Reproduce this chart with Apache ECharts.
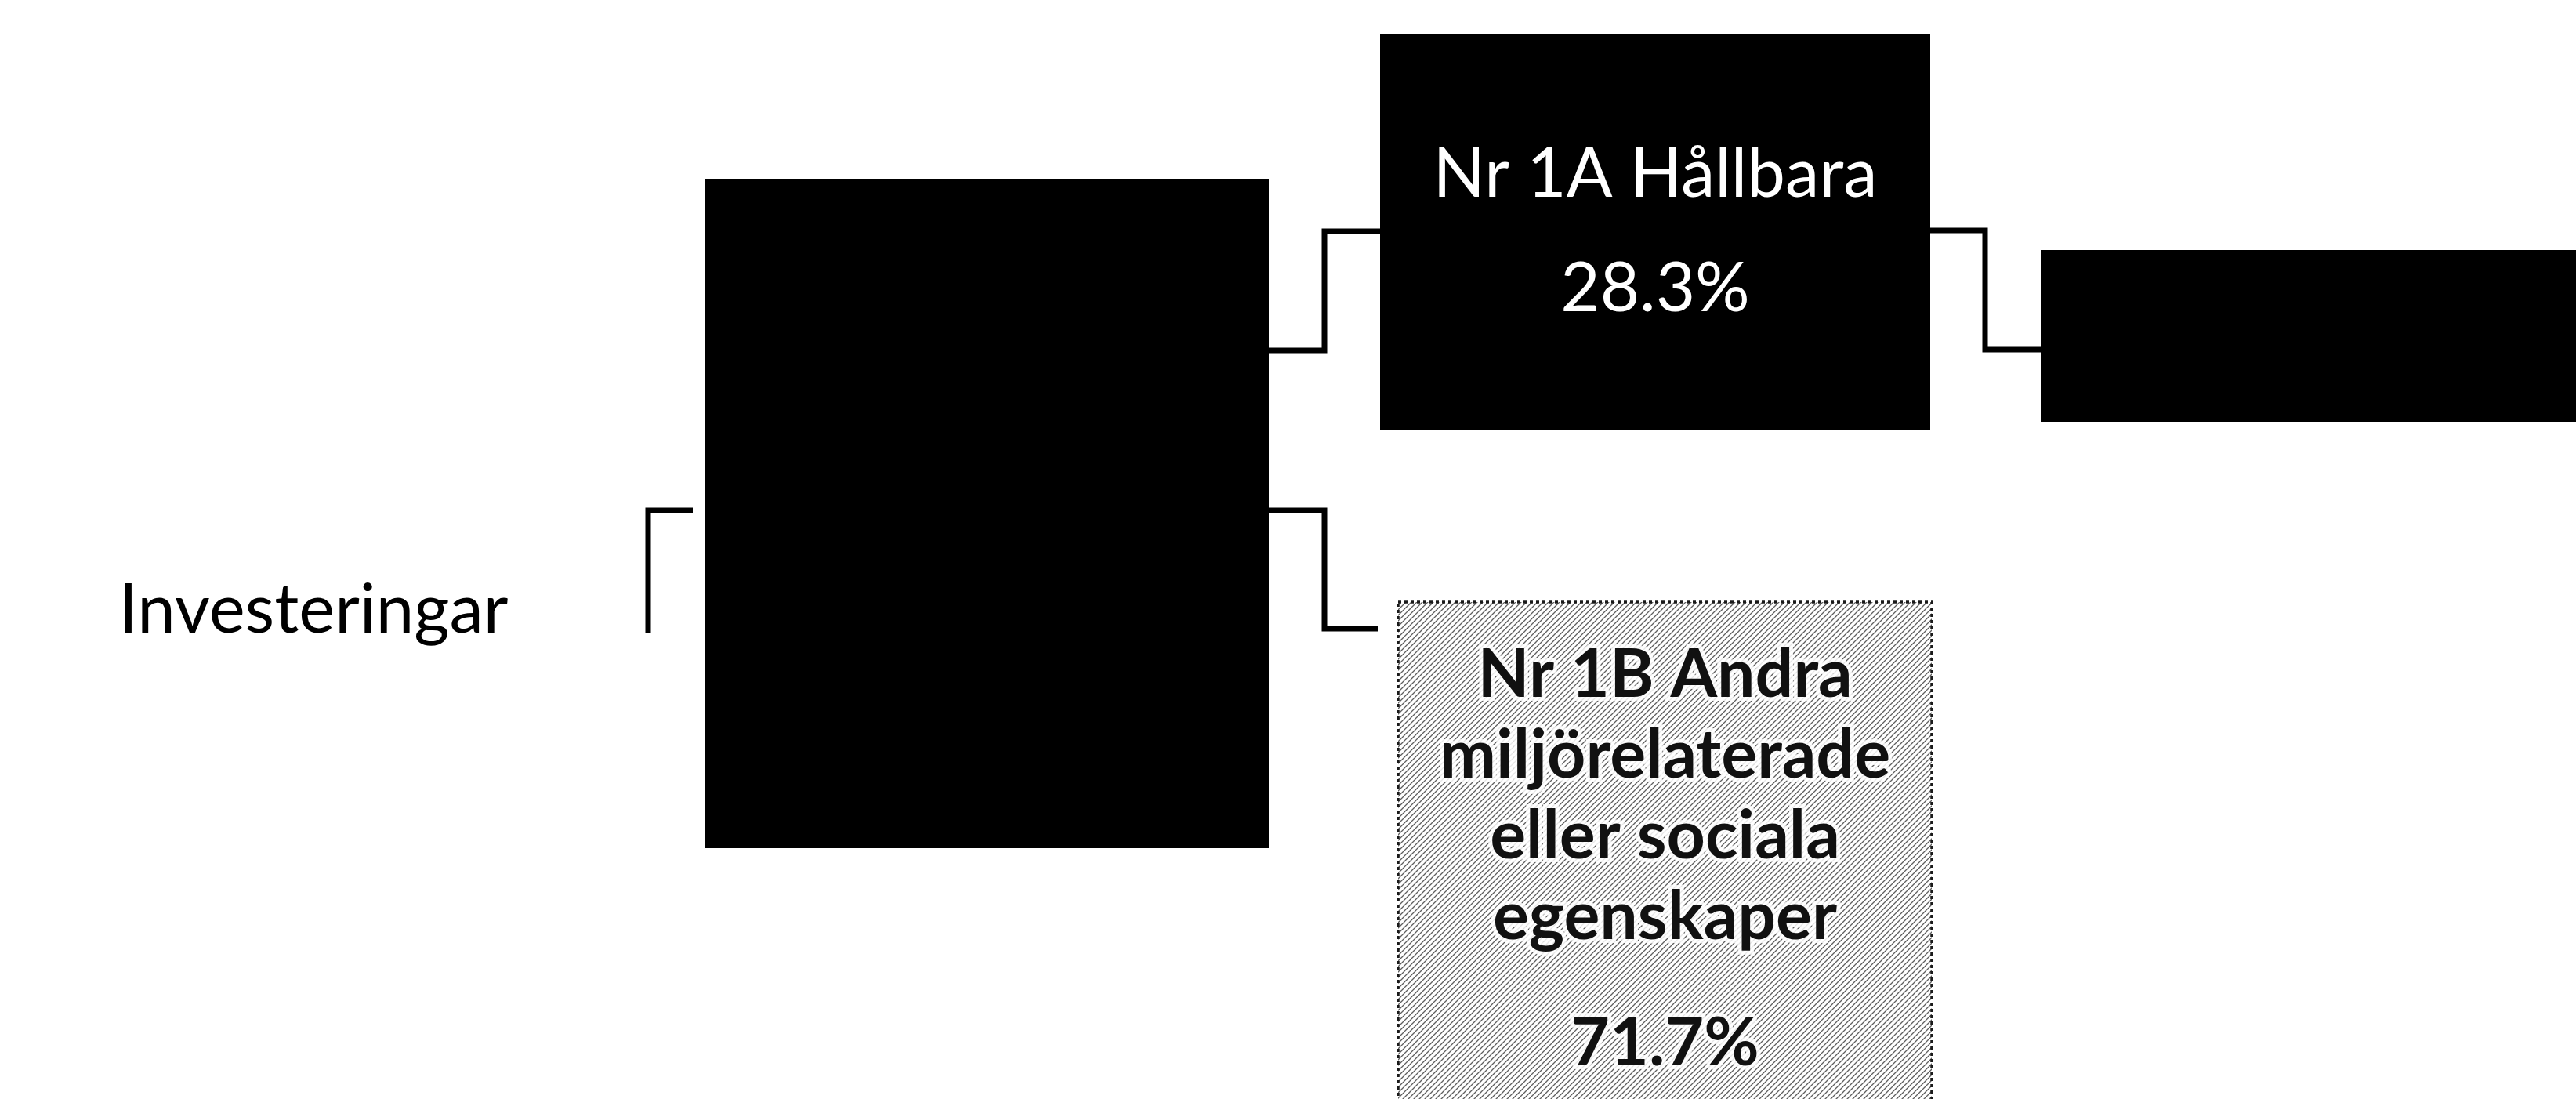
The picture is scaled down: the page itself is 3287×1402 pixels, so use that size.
<!DOCTYPE html>
<html>
<head>
<meta charset="utf-8">
<script src="https://cdn.jsdelivr.net/npm/echarts@6/dist/echarts.min.js"></script>
<style>
html, body { margin: 0; padding: 0; background: #ffffff; }
#chart { width: 3287px; height: 1402px; }
</style>
</head>
<body>
<div id="chart"></div>
<script>
// ---- Data ----
const nodeLabels = ['Investeringar', '', 'Nr 1A Hållbara', 'Nr 1B Andra\nmiljörelaterade\neller sociala\negenskaper', ''];
const nodeShares = [null, null, 28.3, 71.7, null];   // percent
const linkSource = [0, 1, 1, 2];
const linkTarget = [1, 2, 3, 4];

// ---- Layout (diagram units = page pixels) ----
const nodeBoxes = [
  [34, 668, 766, 890],
  [899, 228, 1619, 1082],
  [1761, 43, 2463, 548],
  [1784, 768, 2465, 1482],
  [2604, 319, 3300, 538]
];
// [startX, startY, elbowX, endY, endX]
const linkRoutes = [
  [827, 807, 827, 651, 884],
  [1619, 447, 1690, 295, 1761],
  [1619, 651, 1690, 802, 1758],
  [2463, 294, 2533, 446, 2604]
];

// hatch pattern for 1B box
function makeHatch() {
  const s = 7;
  const c = document.createElement('canvas');
  c.width = s; c.height = s;
  const g = c.getContext('2d');
  g.fillStyle = '#ffffff';
  g.fillRect(0, 0, s, s);
  g.strokeStyle = '#5e5e5e';
  g.lineWidth = 1.3;
  g.beginPath();
  g.moveTo(-1, s + 1); g.lineTo(s + 1, -1);
  g.moveTo(-s / 2 - 1, s / 2 + 1); g.lineTo(s / 2 + 1, -s / 2 - 1);
  g.moveTo(s / 2 - 1, s * 1.5 + 1); g.lineTo(s * 1.5 + 1, s / 2 - 1);
  g.stroke();
  return c;
}
const hatch = makeHatch();

const FONT = 'Lato, "Open Sans", "Noto Sans", sans-serif';
const nodeStyle = [
  { fill: 'rgba(0,0,0,0)', stroke: null, lineWidth: 0, lineDash: null,
    t: { fontSize: 87, fill: '#000', fontWeight: 'normal', lineHeight: 100 }, pLH: 100 },
  { fill: '#000', stroke: null, lineWidth: 0, lineDash: null,
    t: { fontSize: 87, fill: '#fff', fontWeight: 'normal', lineHeight: 100 }, pLH: 100 },
  { fill: '#000', stroke: null, lineWidth: 0, lineDash: null,
    t: { fontSize: 87, fill: '#fff', fontWeight: 'normal', lineHeight: 146 }, pLH: 146 },
  { fill: { image: hatch, repeat: 'repeat' }, stroke: '#1a1a1a', lineWidth: 3.5, lineDash: [4, 4],
    t: { fontSize: 86, fill: '#111', fontWeight: 'bold', lineHeight: 103,
         stroke: 'rgba(255,255,255,0.85)', lineWidth: 10 }, pLH: 219 },
  { fill: '#000', stroke: null, lineWidth: 0, lineDash: null,
    t: { fontSize: 87, fill: '#fff', fontWeight: 'normal', lineHeight: 100 }, pLH: 100 }
];

function labelText(i) {
  const parts = [];
  if (nodeLabels[i]) {
    nodeLabels[i].split('\n').forEach(l => parts.push('{t|' + l + '}'));
  }
  if (nodeShares[i] != null) parts.push('{p|' + nodeShares[i].toFixed(1) + '%}');
  return parts.join('\n');
}

const chart = echarts.init(document.getElementById('chart'), null, { renderer: 'canvas' });

chart.setOption({
  animation: false,
  backgroundColor: '#ffffff',
  grid: { left: 0, right: 0, top: 0, bottom: 0 },
  xAxis: { type: 'value', min: 0, max: 3287, show: false },
  yAxis: { type: 'value', min: 0, max: 1402, inverse: true, show: false },
  series: [
    {
      type: 'custom',
      name: 'links',
      coordinateSystem: 'cartesian2d',
      silent: true,
      data: linkSource.map((s, i) => [i, s, linkTarget[i]]),
      renderItem: function (params, api) {
        const r = linkRoutes[api.value(0)];
        const pts = [
          api.coord([r[0], r[1]]),
          api.coord([r[2], r[1]]),
          api.coord([r[2], r[3]]),
          api.coord([r[4], r[3]])
        ];
        return {
          type: 'polyline',
          shape: { points: pts },
          style: { stroke: '#000', lineWidth: 7, fill: null, lineJoin: 'miter', lineCap: 'butt' }
        };
      },
      z: 1
    },
    {
      type: 'custom',
      name: 'nodes',
      coordinateSystem: 'cartesian2d',
      silent: true,
      data: nodeLabels.map((n, i) => [i]),
      renderItem: function (params, api) {
        const i = api.value(0);
        const b = nodeBoxes[i];
        const st = nodeStyle[i];
        const p0 = api.coord([b[0], b[1]]);
        const p1 = api.coord([b[2], b[3]]);
        const base = Object.assign({ fontFamily: FONT }, st.t);
        return {
          type: 'rect',
          shape: { x: p0[0], y: p0[1], width: p1[0] - p0[0], height: p1[1] - p0[1] },
          style: {
            fill: st.fill,
            stroke: st.stroke,
            lineWidth: st.lineWidth,
            lineDash: st.lineDash
          },
          textContent: {
            type: 'text',
            style: {
              text: labelText(i),
              align: 'center',
              verticalAlign: 'middle',
              fill: st.t.fill,
              fontFamily: FONT,
              fontSize: st.t.fontSize,
              fontWeight: st.t.fontWeight,
              rich: {
                t: base,
                p: Object.assign({}, base, { lineHeight: st.pLH })
              }
            }
          },
          textConfig: { position: 'inside', insideFill: st.t.fill, insideStroke: st.t.stroke || 'none' }
        };
      },
      z: 2
    }
  ]
});
</script>
</body>
</html>
